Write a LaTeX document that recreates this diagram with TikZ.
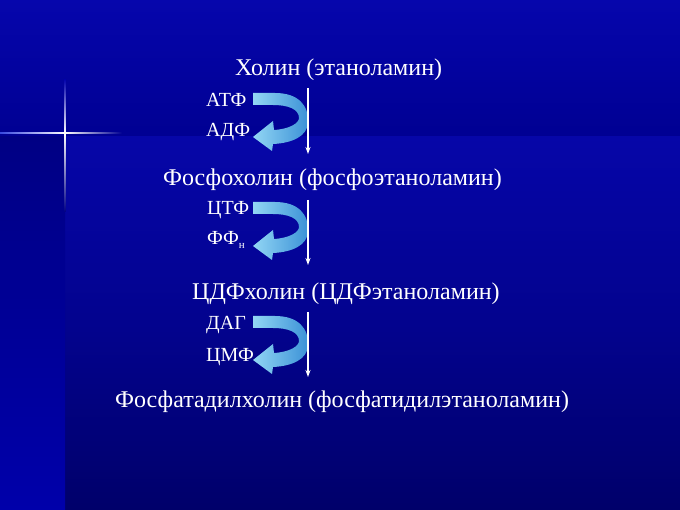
\documentclass[tikz,border=0pt]{standalone}
\usepackage{fontspec}
\setmainfont{Liberation Serif}
\usetikzlibrary{arrows.meta}
\definecolor{bgA}{HTML}{0606AC}
\definecolor{bgB}{HTML}{000092}
\definecolor{bgC}{HTML}{0606A8}
\definecolor{bgD}{HTML}{03038E}
\definecolor{bgE}{HTML}{00006A}
\definecolor{stripA}{HTML}{000084}
\definecolor{stripB}{HTML}{0000AA}
\definecolor{arrlight}{HTML}{92D6F4}
\definecolor{arrdark}{HTML}{3A90D6}
\definecolor{glow}{HTML}{3848E0}
\begin{document}
\begin{tikzpicture}[x=1pt,y=-1pt,
  maintext/.style={text=white,font=\fontsize{24}{28}\selectfont,anchor=base west,inner sep=0pt},
  labtext/.style={text=white,font=\fontsize{20}{24}\selectfont,anchor=base west,inner sep=0pt},
  downarrow/.style={draw=white,line width=1.3pt,-{Stealth[length=7pt,width=5pt]}},
  curvedarrow/.pic={
    \shade[left color=arrlight,right color=arrdark]
      (0,0) -- (22,0) .. controls (45,0) and (56,12) .. (55,30)
      .. controls (54,43) and (40,50) .. (20,51) -- (19,58) -- (0,44) -- (20,28) -- (21,37)
      .. controls (37,36) and (46,30) .. (46,25)
      .. controls (46,16) and (35,12) .. (20,12) -- (0,12) -- cycle;
  }]
\useasboundingbox (0,0) rectangle (680,510);
% background
\shade[top color=bgA,bottom color=bgB] (0,0) rectangle (680,137);
\shade[top color=bgC,bottom color=bgE,middle color=bgD] (65,137) rectangle (680,510);
\shade[top color=stripA,bottom color=stripB] (0,137) rectangle (65,510);
% star
\shade[top color=bgA,bottom color=white] (64.2,80) rectangle (65.8,133);
\shade[top color=white,bottom color=stripA] (64.2,133) rectangle (65.8,212);
\shade[left color=glow,right color=white] (0,132.2) rectangle (65,133.8);
\shade[left color=white,right color=bgB] (65,132.2) rectangle (122,133.8);
\fill[white] (65,133) circle (1.6);
% main texts
\node[maintext] (t1) at (235,76) {Холин (этаноламин)};
\node[maintext] (t2) at (163,186) {Фосфохолин (фосфоэтаноламин)};
\node[maintext] (t3) at (192,300) {ЦДФхолин (ЦДФэтаноламин)};
\node[maintext] (t4) at (115,407) {Фосфатадилхолин (фосфатидилэтаноламин)};
% labels
\node[labtext] (l1) at (206,107) {АТФ};
\node[labtext] (l2) at (206,137) {АДФ};
\node[labtext] (l3) at (207,215) {ЦТФ};
\node[labtext] (l4) at (207,245) {ФФ\raisebox{-4pt}{\fontsize{11}{12}\selectfont н}};
\node[labtext] (l5) at (206,330) {ДАГ};
\node[labtext] (l6) at (206,362) {ЦМФ};
% curved arrows
\pic at (253,93) {curvedarrow};
\pic at (253,202) {curvedarrow};
\pic at (253,316) {curvedarrow};
% vertical arrows
\coordinate (a1s) at (308,88);  \coordinate (a1e) at (308,154);
\coordinate (a2s) at (308,200); \coordinate (a2e) at (308,265);
\coordinate (a3s) at (308,312); \coordinate (a3e) at (308,377);
\draw[downarrow] (a1s) -- (a1e);
\draw[downarrow] (a2s) -- (a2e);
\draw[downarrow] (a3s) -- (a3e);
\end{tikzpicture}
\end{document}
